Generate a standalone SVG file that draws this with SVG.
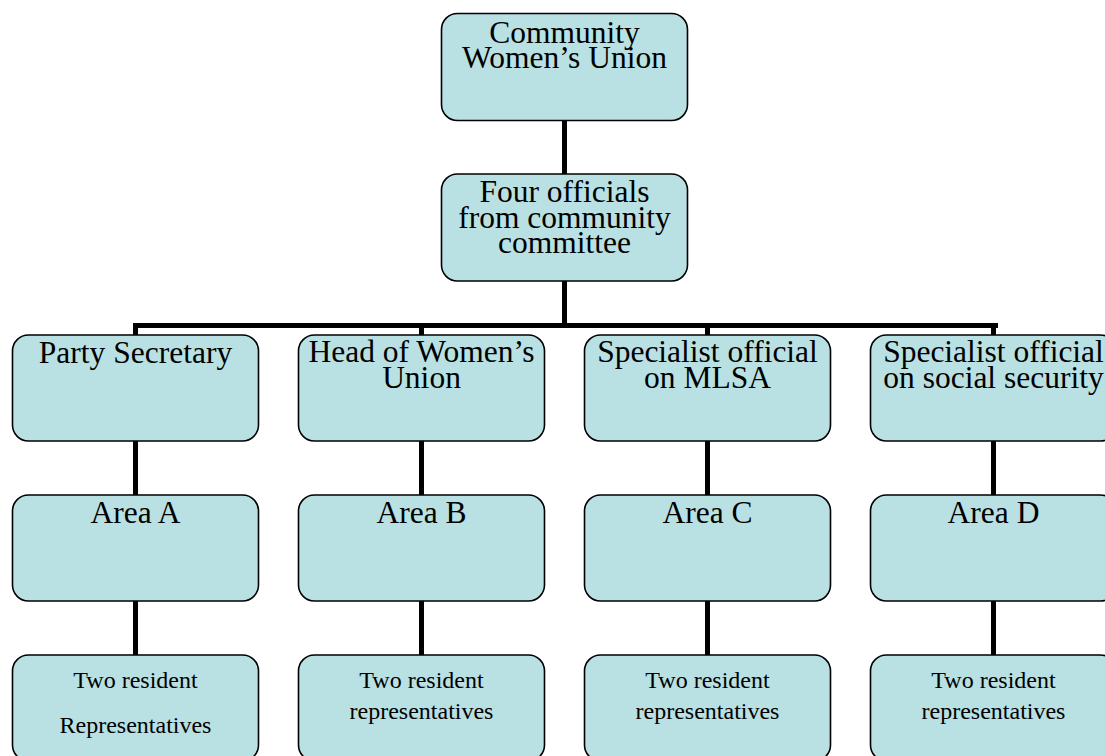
<svg xmlns="http://www.w3.org/2000/svg" width="1105" height="756" viewBox="0 0 1105 756">
<style>
.n{fill:#b9e0e3;stroke:#000;stroke-width:1.6}
.t{font-family:"Liberation Serif","Times New Roman",serif;font-size:31.5px;fill:#000;text-anchor:middle}
.s{font-family:"Liberation Serif","Times New Roman",serif;font-size:24px;fill:#000;text-anchor:middle}
.c{stroke:#000;stroke-width:5;fill:none}
</style>
<rect width="1105" height="756" fill="#fff"/>
<g id="connectors">
<path class="c" d="M564.5 120V174M564.5 281V325.5M133 325.5H998M135.5 325.5V335M421.5 325.5V335M707.5 325.5V335M993.5 325.5V335"/>
<path class="c" d="M135.5 441V495M421.5 441V495M707.5 441V495M993.5 441V495M135.5 601V655M421.5 601V655M707.5 601V655M993.5 601V655"/>
</g>
<g id="n-top"><rect class="n" x="441.5" y="13.5" width="246" height="107" rx="16"/><text class="t" x="564.5" y="43">Community</text><text class="t" x="564.5" y="68">Women’s Union</text></g>
<g id="n-four"><rect class="n" x="441.5" y="174" width="246" height="107" rx="16"/><text class="t" x="564.5" y="202">Four officials</text><text class="t" x="564.5" y="228">from community</text><text class="t" x="564.5" y="253">committee</text></g>
<g id="n-party"><rect class="n" x="12.5" y="335" width="246" height="106" rx="16"/><text class="t" x="135.5" y="363">Party Secretary</text></g>
<g id="n-head"><rect class="n" x="298.5" y="335" width="246" height="106" rx="16"/><text class="t" x="421.5" y="362">Head of Women’s</text><text class="t" x="421.5" y="388">Union</text></g>
<g id="n-mlsa"><rect class="n" x="584.5" y="335" width="246" height="106" rx="16"/><text class="t" x="707.5" y="362">Specialist official</text><text class="t" x="707.5" y="388">on MLSA</text></g>
<g id="n-social"><rect class="n" x="870.5" y="335" width="246" height="106" rx="16"/><text class="t" x="993.5" y="362">Specialist official</text><text class="t" x="993.5" y="388">on social security</text></g>
<g id="n-areaA"><rect class="n" x="12.5" y="495" width="246" height="106" rx="16"/><text class="t" x="135.5" y="523">Area A</text></g>
<g id="n-areaB"><rect class="n" x="298.5" y="495" width="246" height="106" rx="16"/><text class="t" x="421.5" y="523">Area B</text></g>
<g id="n-areaC"><rect class="n" x="584.5" y="495" width="246" height="106" rx="16"/><text class="t" x="707.5" y="523">Area C</text></g>
<g id="n-areaD"><rect class="n" x="870.5" y="495" width="246" height="106" rx="16"/><text class="t" x="993.5" y="523">Area D</text></g>
<g id="n-repA"><rect class="n" x="12.5" y="655" width="246" height="106" rx="16"/><text class="s" x="135.5" y="688">Two resident</text><text class="s" x="135.5" y="733">Representatives</text></g>
<g id="n-repB"><rect class="n" x="298.5" y="655" width="246" height="106" rx="16"/><text class="s" x="421.5" y="688">Two resident</text><text class="s" x="421.5" y="719">representatives</text></g>
<g id="n-repC"><rect class="n" x="584.5" y="655" width="246" height="106" rx="16"/><text class="s" x="707.5" y="688">Two resident</text><text class="s" x="707.5" y="719">representatives</text></g>
<g id="n-repD"><rect class="n" x="870.5" y="655" width="246" height="106" rx="16"/><text class="s" x="993.5" y="688">Two resident</text><text class="s" x="993.5" y="719">representatives</text></g>
</svg>
